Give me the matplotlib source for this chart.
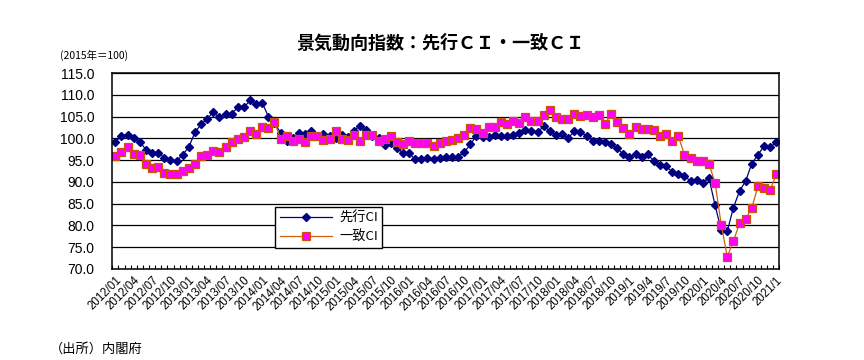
import matplotlib
matplotlib.use("Agg")
import matplotlib.pyplot as plt
import numpy as np

plt.rcParams['font.family'] = ['Liberation Sans', 'Noto Sans CJK JP']

## data (2015=100), monthly 2012/01 - 2021/01
leading = [99.2, 100.6, 100.8, 100.0, 99.2, 97.4, 96.6, 96.7, 95.5, 95.1, 94.8, 96.2,
           98.0, 101.4, 103.2, 104.5, 106.0, 104.8, 105.5, 105.7, 107.1, 107.1, 108.7, 107.9,
           108.2, 105.0, 103.5, 101.3, 99.5, 100.0, 101.3, 100.9, 101.6, 100.5, 100.9, 100.5,
           100.0, 100.8, 100.3, 101.8, 102.9, 102.0, 100.5, 100.0, 98.4, 99.0, 97.8, 96.6,
           96.6, 95.2, 95.2, 95.4, 95.2, 95.5, 95.8, 95.8, 95.8, 96.8, 98.6, 100.6,
           100.3, 100.3, 100.8, 100.6, 100.6, 100.8, 101.2, 102.0, 101.7, 101.4, 102.8, 101.7,
           100.7, 101.0, 100.0, 101.7, 101.4, 100.6, 99.4, 99.4, 99.1, 98.7, 97.8, 96.3,
           95.7, 96.3, 95.7, 96.3, 94.8, 93.8, 93.6, 92.3, 91.9, 91.3, 90.2, 90.5,
           89.8, 90.9, 84.6, 79.0, 78.7, 84.1, 87.9, 90.2, 94.2, 96.2, 98.2, 97.9,
           99.2]
coincident = [95.9, 96.8, 98.0, 96.4, 96.2, 94.2, 93.3, 93.4, 92.1, 91.8, 91.8, 92.6,
              93.3, 94.2, 95.9, 96.2, 97.2, 96.8, 98.1, 99.2, 99.8, 100.4, 101.6, 101.1,
              102.7, 102.4, 103.8, 99.8, 100.6, 99.5, 99.9, 99.2, 100.6, 100.6, 99.6, 99.9,
              101.7, 99.8, 99.6, 100.8, 99.4, 100.7, 100.7, 99.4, 99.9, 100.6, 99.1, 98.7,
              99.4, 99.0, 99.0, 99.0, 98.2, 99.0, 99.3, 99.6, 100.0, 100.8, 102.4, 102.1,
              101.3, 102.6, 102.6, 103.7, 103.2, 104.1, 103.5, 104.9, 104.0, 104.0, 105.4, 106.6,
              105.0, 104.4, 104.4, 105.7, 105.2, 105.4, 104.9, 105.3, 103.2, 105.6, 103.7, 102.4,
              101.0, 102.5, 102.2, 102.2, 102.0, 100.6, 101.0, 99.4, 100.5, 96.2, 95.4, 94.8,
              94.8, 94.2, 89.8, 80.2, 72.8, 76.4, 80.5, 81.5, 84.0, 89.0, 88.5, 88.1,
              91.7]

labels = []
for y in range(2012, 2022):
    for m in (1, 4, 7, 10):
        if y == 2021 and m > 1:
            break
        if y >= 2019:
            labels.append("%d/%d" % (y, m))
        else:
            labels.append("%d/%02d" % (y, m))

x = np.arange(len(leading))

fig = plt.figure(figsize=(8.64, 3.6), dpi=100)
ax = fig.add_axes([0.130, 0.253, 0.772, 0.544])

ax.plot(x, leading, color='#000080', lw=0.9, marker='D', markersize=4.3,
        markerfacecolor='#000080', markeredgecolor='#000080', label='先行CI')
ax.plot(x, coincident, color='#D0600F', lw=0.9, marker='s', markersize=5.6,
        markerfacecolor='#FF00FF', markeredgecolor='#CC5500', markeredgewidth=0.9,
        label='一致CI')

ax.set_xlim(-0.45, len(x) - 0.55)
ax.set_ylim(70, 115)
ax.set_yticks(np.arange(70, 116, 5))
ax.set_yticklabels(["%.1f" % v for v in np.arange(70, 116, 5)], fontsize=10)
ax.yaxis.grid(True, color='black', lw=0.9)
ax.set_axisbelow(True)
ax.tick_params(axis='y', length=0, pad=13)

ax.set_xticks(np.arange(0, len(x), 3))
ax.set_xticklabels(labels, rotation=45, ha='right', va='top',
                   rotation_mode='anchor', fontsize=8.3)
ax.set_xticks(np.arange(-0.5, len(x), 1), minor=True)
ax.tick_params(axis='x', which='major', length=0, pad=4)
ax.tick_params(axis='x', which='minor', direction='in', length=3, width=0.8)

for s in ax.spines.values():
    s.set_color('black')
    s.set_linewidth(1.1)

leg = ax.legend(loc='lower left', bbox_to_anchor=(0.244, 0.107), borderaxespad=0,
                fancybox=False, edgecolor='black', framealpha=1,
                handlelength=4.0, borderpad=0.35, labelspacing=0.45, handletextpad=0.5,
                prop={'family': ['Noto Sans CJK JP'], 'size': 9.5})
leg.get_frame().set_linewidth(1.0)

fig.text(0.51, 0.88, '景気動向指数：先行ＣＩ・一致ＣＩ', ha='center', va='center',
         fontsize=13, fontweight='bold', family=['Noto Sans CJK JP'])
fig.text(0.069, 0.845, '(2015年＝100)', ha='left', va='center',
         fontsize=7.5, family=['Noto Sans CJK JP'])
fig.text(0.058, 0.03, '（出所）内閣府', ha='left', va='center',
         fontsize=9.5, family=['Noto Sans CJK JP'])

fig.savefig('out.png', dpi=100)
